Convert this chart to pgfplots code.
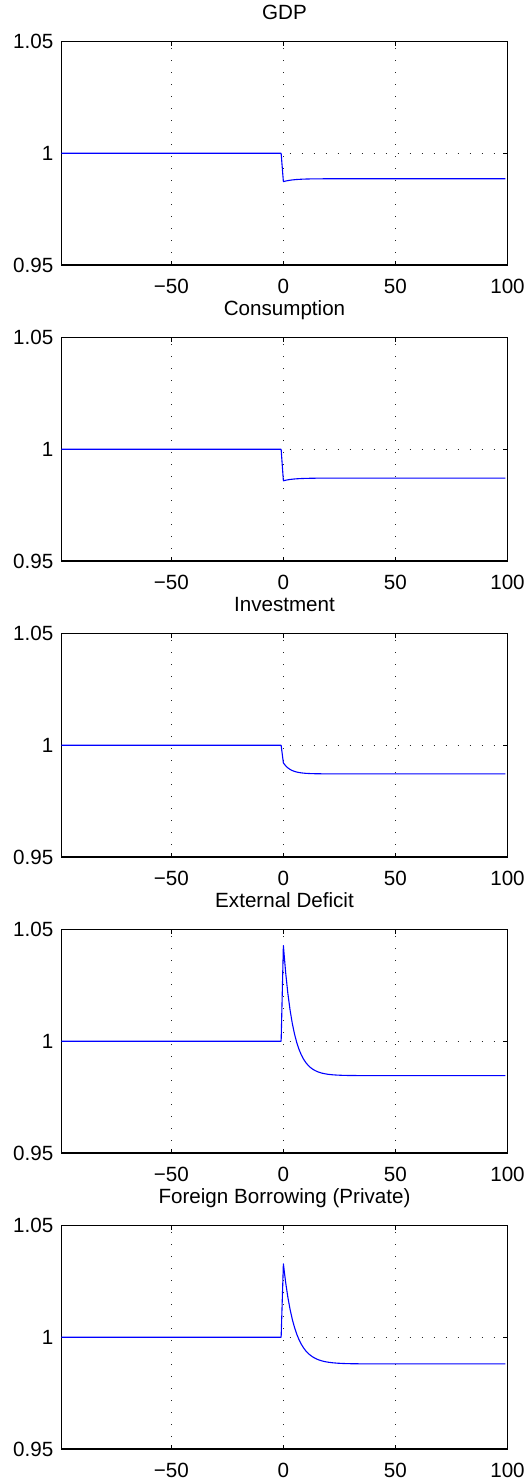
\documentclass[border=0pt]{standalone}
\usepackage{fontspec}
\setmainfont{Liberation Sans}
\usepackage{pgfplots}
\pgfplotsset{compat=1.18}
\definecolor{mblue}{rgb}{0,0,1}
\pgfplotsset{
  panel/.style={
    width=446pt, height=223.5pt, scale only axis,
    anchor=north west,
    xmin=-99, xmax=100, ymin=0.95, ymax=1.05,
    xtick={-50,0,50,100}, xticklabels={−50,0,50,100},
    ytick={0.95,1,1.05}, yticklabels={0.95,1,1.05},
    tick align=inside, major tick length=4.5pt,
    tick style={black, line width=0.6pt},
    axis line style={black, line width=1.3pt},
    grid=major,
    major grid style={black!85, line width=0.9pt, dash pattern=on 0.9pt off 11.1pt},
    ticklabel style={font=\fontsize{20.6}{24}\selectfont},
    xticklabel style={inner sep=0pt, anchor=north, yshift=-14.2pt},
    yticklabel style={inner sep=0pt, anchor=east, xshift=-8pt},
    title style={font=\fontsize{20.6}{24}\selectfont, at={(0.5,1)}, anchor=base, inner sep=0pt, yshift=15.7pt},
    /pgf/number format/assume math mode=true,
  },
  ln/.style={mblue, line width=1.1pt, line join=round},
}
\begin{document}
\begin{tikzpicture}
\begin{axis}[panel, at={(61.5pt,-41.5pt)}, title={GDP}]
\addplot[ln] coordinates {(-99,1) (-1,1) (0,0.9873) (1,0.98756) (2,0.98777) (3,0.98793) (4,0.98807) (5,0.98817) (6,0.98826) (8,0.98838) (10,0.98846) (12,0.98851) (15,0.98855) (20,0.98859) (99,0.9886)};
\end{axis}
\begin{axis}[panel, at={(61.5pt,-337.5pt)}, title={Consumption}]
\addplot[ln] coordinates {(-99,1) (-1,1) (0,0.9859) (1,0.98614) (2,0.98633) (3,0.98649) (4,0.98661) (5,0.98671) (6,0.98679) (8,0.9869) (10,0.98697) (12,0.98702) (15,0.98706) (20,0.98709) (99,0.9871)};
\end{axis}
\begin{axis}[panel, at={(61.5pt,-633.5pt)}, title={Investment}]
\addplot[ln] coordinates {(-99,1) (-1,1) (0,0.9921) (1,0.99083) (2,0.98988) (3,0.98919) (4,0.98867) (5,0.98829) (6,0.98801) (7,0.9878) (8,0.98764) (9,0.98753) (10,0.98744) (12,0.98733) (14,0.98727) (16,0.98724) (20,0.9872) (99,0.9872)};
\end{axis}
\begin{axis}[panel, at={(61.5pt,-929.5pt)}, title={External Deficit}]
\addplot[ln] coordinates {(-99,1) (-1,1) (0,1.04282) (1,1.03089) (2,1.0214) (3,1.01387) (4,1.00787) (5,1.0031) (6,0.99932) (7,0.9963) (8,0.99391) (9,0.99201) (10,0.99049) (11,0.98929) (12,0.98833) (13,0.98757) (14,0.98697) (15,0.98648) (16,0.9861) (17,0.9858) (18,0.98556) (19,0.98537) (20,0.98521) (22,0.98499) (24,0.98486) (26,0.98477) (28,0.98471) (30,0.98468) (35,0.98464) (99,0.98462)};
\end{axis}
\begin{axis}[panel, at={(61.5pt,-1225.5pt)}, title={Foreign Borrowing (Private)}]
\addplot[ln] coordinates {(-99,1) (-1,1) (0,1.03287) (1,1.02463) (2,1.0179) (3,1.01241) (4,1.00793) (5,1.00428) (6,1.0013) (7,0.99886) (8,0.99688) (9,0.99526) (10,0.99393) (11,0.99285) (12,0.99198) (13,0.99126) (14,0.99067) (15,0.99019) (16,0.9898) (17,0.98948) (18,0.98922) (19,0.98901) (20,0.98884) (22,0.98858) (24,0.98841) (26,0.9883) (28,0.98822) (30,0.98817) (35,0.98811) (40,0.98808) (99,0.98807)};
\end{axis}
\pgfresetboundingbox
\useasboundingbox (0,0) rectangle (530pt,-1484pt);
\end{tikzpicture}
\end{document}
